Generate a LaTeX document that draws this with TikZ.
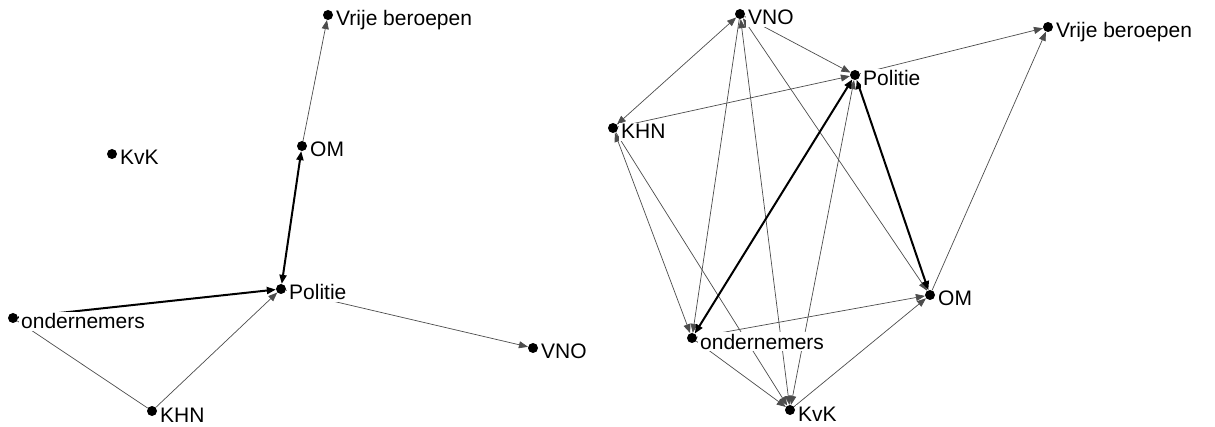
\documentclass[tikz,border=0pt]{standalone}
\usepackage{fontspec}
\setmainfont{Liberation Sans}
\usetikzlibrary{arrows.meta}
\begin{document}
\begin{tikzpicture}[x=1pt,y=-1pt,
  vert/.style={circle,fill=black,minimum size=10pt,inner sep=0pt},
  lab/.style={anchor=base west,fill=white,inner sep=2pt,font=\fontsize{21}{25}\selectfont},
  thinedge/.style={line width=0.7pt,draw=black!70},
  thickedge/.style={line width=2pt,draw=black},
  arr/.style={-{Triangle[length=9pt,width=7pt]}},
  arrboth/.style={{Triangle[length=9pt,width=7pt]}-{Triangle[length=9pt,width=7pt]}},
]
\useasboundingbox (0,0) rectangle (1215,427);
% left graph vertices
\node[vert] (lvb) at (328,15) {};
\node[vert] (lom) at (302,146) {};
\node[vert] (lkvk) at (112,154) {};
\node[vert] (lpol) at (281,289) {};
\node[vert] (lond) at (13,318) {};
\node[vert] (lvno) at (533,348) {};
\node[vert] (lkhn) at (152,411) {};
% right graph vertices
\node[vert] (rvno) at (740,14) {};
\node[vert] (rvb) at (1048,27) {};
\node[vert] (rpol) at (855,75) {};
\node[vert] (rkhn) at (613,128) {};
\node[vert] (rom) at (930,295) {};
\node[vert] (rond) at (692,338) {};
\node[vert] (rkvk) at (790,410) {};
% left edges
\draw[thinedge,arr] (lom) -- (lvb);
\draw[thickedge,arrboth] (lpol) -- (lom);
\draw[thickedge,arr] (lond) -- (lpol);
\draw[thinedge] (lond) -- (lkhn);
\draw[thinedge,arr] (lkhn) -- (lpol);
\draw[thinedge,arr] (lpol) -- (lvno);
% right edges
\draw[thinedge,arrboth] (rkhn) -- (rvno);
\draw[thinedge,arr] (rkhn) -- (rpol);
\draw[thinedge,arr] (rvno) -- (rpol);
\draw[thinedge,arr] (rpol) -- (rvb);
\draw[thinedge,arr] (rom) -- (rvb);
\draw[thinedge,arr] (rvno) -- (rond);
\draw[thinedge,arrboth] (rvno) -- (rkvk);
\draw[thinedge,arrboth] (rvno) -- (rom);
\draw[thinedge,arrboth] (rkhn) -- (rond);
\draw[thinedge,arr] (rkhn) -- (rkvk);
\draw[thinedge,arrboth] (rpol) -- (rkvk);
\draw[thinedge,arr] (rond) -- (rom);
\draw[thinedge,arr] (rond) -- (rkvk);
\draw[thinedge,arr] (rkvk) -- (rom);
\draw[thickedge,arrboth] (rpol) -- (rom);
\draw[thickedge,arrboth] (rond) -- (rpol);
% labels left
\node[lab] (lvbL) at ([shift={(6,11)}]lvb) {Vrije beroepen};
\node[lab] (lomL) at ([shift={(6,11)}]lom) {OM};
\node[lab] (lkvkL) at ([shift={(6,11)}]lkvk) {KvK};
\node[lab] (lpolL) at ([shift={(6,11)}]lpol) {Politie};
\node[lab] (londL) at ([shift={(6,11)}]lond) {ondernemers};
\node[lab] (lvnoL) at ([shift={(6,11)}]lvno) {VNO};
\node[lab] (lkhnL) at ([shift={(6,11)}]lkhn) {KHN};
% labels right
\node[lab] (rvnoL) at ([shift={(6,11)}]rvno) {VNO};
\node[lab] (rvbL) at ([shift={(6,11)}]rvb) {Vrije beroepen};
\node[lab] (rpolL) at ([shift={(6,11)}]rpol) {Politie};
\node[lab] (rkhnL) at ([shift={(6,11)}]rkhn) {KHN};
\node[lab] (romL) at ([shift={(6,11)}]rom) {OM};
\node[lab] (rondL) at ([shift={(6,11)}]rond) {ondernemers};
\node[lab] (rkvkL) at ([shift={(6,11)}]rkvk) {KvK};
\end{tikzpicture}
\end{document}
